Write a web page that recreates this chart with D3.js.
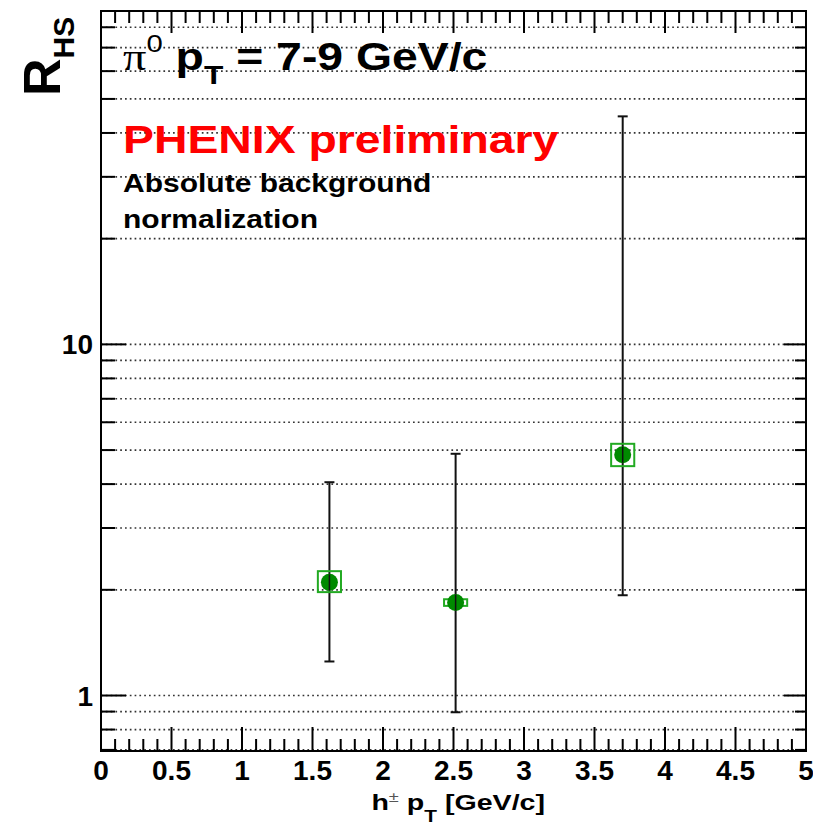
<!DOCTYPE html>
<html><head><meta charset="utf-8">
<script src="https://cdn.jsdelivr.net/npm/d3@7"></script>
<style>body{margin:0;background:#fff}svg{display:block}</style>
</head><body>
<script>
// ---- data ----
const xPt   = [1.62, 2.515, 3.70];       // h± pT [GeV/c]
const yVal  = [2.10, 1.84, 4.85];        // R_HS
const yStatHi = [4.05, 4.88, 44.6];      // upper end of stat. error bar
const yStatLo = [1.25, 0.896, 1.93];     // lower end of stat. error bar
const ySysHi  = [2.26, 1.88, 5.21];      // systematic box top
const ySysLo  = [1.97, 1.80, 4.50];      // systematic box bottom
const boxHalfWidth = 0.082;
const xTickLabels = ["0","0.5","1","1.5","2","2.5","3","3.5","4","4.5","5"];
const yTickLabels = ["1","10"];

const W = 813, H = 827;
const L = 101, R = 806, T = 11, B = 751;
const svg = d3.select("body").append("svg").attr("width", W).attr("height", H);

const x = d3.scaleLinear().domain([0, 5]).range([L, R]);
const y = d3.scaleLog().domain([0.695, 89]).range([B, T]);

const sans = "'Liberation Sans', Arial, Helvetica, sans-serif";
const serif = "'Liberation Serif', 'Times New Roman', serif";

// minor y values
const yMinor = [];
[0.1, 1, 10].forEach(d => { for (let k = 1; k <= 9; k++) { const v = +(k * d).toFixed(3); if (v >= 0.695 && v <= 89) yMinor.push(v); } });
const yMajor = yTickLabels.map(Number);

// dotted grid lines
svg.append("g").selectAll("line").data(yMinor).join("line")
  .attr("x1", L).attr("x2", R).attr("y1", d => y(d)).attr("y2", d => y(d))
  .attr("stroke", "#333").attr("stroke-width", 1.7).attr("stroke-dasharray", "1.7,3.1");

// x ticks
const xMinor = d3.range(0, 51).map(i => i / 10);
const isHalf = d => Math.abs(d * 2 - Math.round(d * 2)) < 1e-6;
const gx = svg.append("g");
gx.selectAll("line.b").data(xMinor).join("line").attr("class", "b")
  .attr("x1", d => x(d)).attr("x2", d => x(d))
  .attr("y1", B).attr("y2", d => B - (isHalf(d) ? 24 : 12))
  .attr("stroke", "#000").attr("stroke-width", 2);
gx.selectAll("line.t").data(xMinor).join("line").attr("class", "t")
  .attr("x1", d => x(d)).attr("x2", d => x(d))
  .attr("y1", T).attr("y2", d => T + (isHalf(d) ? 22 : 12))
  .attr("stroke", "#000").attr("stroke-width", 2);

// y ticks
const gy = svg.append("g");
gy.selectAll("line.l").data(yMinor).join("line").attr("class", "l")
  .attr("y1", d => y(d)).attr("y2", d => y(d))
  .attr("x1", L).attr("x2", d => L + (yMajor.includes(d) ? 25 : 14))
  .attr("stroke", "#000").attr("stroke-width", 2);
gy.selectAll("line.r").data(yMinor).join("line").attr("class", "r")
  .attr("y1", d => y(d)).attr("y2", d => y(d))
  .attr("x1", R).attr("x2", d => R - (yMajor.includes(d) ? 22 : 11))
  .attr("stroke", "#000").attr("stroke-width", 2);

// frame
svg.append("rect").attr("x", L).attr("y", T).attr("width", R - L).attr("height", B - T)
  .attr("fill", "none").attr("stroke", "#000").attr("stroke-width", 2);

// tick labels
svg.append("g").selectAll("text").data(xTickLabels).join("text")
  .attr("x", d => x(+d)).attr("y", 780).attr("text-anchor", "middle")
  .attr("font-family", sans).attr("font-weight", "bold").attr("font-size", 28).text(d => d);
svg.append("g").selectAll("text").data(yTickLabels).join("text")
  .attr("x", 93).attr("y", d => y(+d) + 10).attr("text-anchor", "end")
  .attr("font-family", sans).attr("font-weight", "bold").attr("font-size", 28).text(d => d);

// axis titles
const xt = svg.append("text").attr("transform", "translate(545,810) scale(1.3,1)").attr("text-anchor", "end")
  .attr("font-family", sans).attr("font-weight", "bold").attr("font-size", 22);
xt.append("tspan").text("h");
xt.append("tspan").attr("font-size", 14).attr("font-weight", "normal").attr("dy", -8).attr("fill", "#555").text("±");
xt.append("tspan").attr("dy", 8).text(" p");
xt.append("tspan").attr("font-size", 16).attr("dy", 12).text("T");
xt.append("tspan").attr("dy", -12).text(" [GeV/c]");

const yt = svg.append("text").attr("transform", "translate(60,96) rotate(-90)")
  .attr("font-family", sans).attr("font-weight", "bold").attr("font-size", 52);
yt.append("tspan").text("R");
yt.append("tspan").attr("font-size", 30).attr("dy", 14).text("HS");

// annotation texts (horizontally stretched like the original renderer)
const t1 = svg.append("text").attr("transform", "translate(123,70) scale(1.22,1)")
  .attr("font-family", sans).attr("font-weight", "bold").attr("font-size", 38);
t1.append("tspan").attr("font-family", serif).attr("font-weight", "normal").text("π");
t1.append("tspan").attr("font-family", sans).attr("font-weight", "normal").attr("font-size", 24).attr("dy", -18).text("0");
t1.append("tspan").attr("dy", 18).text(" p");
t1.append("tspan").attr("font-size", 26).attr("dy", 14).text("T");
t1.append("tspan").attr("dy", -14).text(" = 7-9 GeV/c");

svg.append("text").attr("transform", "translate(123,153) scale(1.22,1)").attr("fill", "#ff0000")
  .attr("font-family", sans).attr("font-weight", "bold").attr("font-size", 38).text("PHENIX preliminary");
svg.append("text").attr("transform", "translate(123,192) scale(1.2,1)")
  .attr("font-family", sans).attr("font-weight", "bold").attr("font-size", 25).text("Absolute background");
svg.append("text").attr("transform", "translate(123,228) scale(1.2,1)")
  .attr("font-family", sans).attr("font-weight", "bold").attr("font-size", 25).text("normalization");

// data
const pts = xPt.map((d, i) => ({x: d, y: yVal[i], hi: yStatHi[i], lo: yStatLo[i], sh: ySysHi[i], sl: ySysLo[i]}));
const gd = svg.append("g");
gd.selectAll("line.err").data(pts).join("line").attr("class", "err")
  .attr("x1", d => x(d.x)).attr("x2", d => x(d.x)).attr("y1", d => y(d.hi)).attr("y2", d => y(d.lo))
  .attr("stroke", "#111").attr("stroke-width", 2);
["hi", "lo"].forEach(k => {
  gd.selectAll("line.cap" + k).data(pts).join("line").attr("class", "cap" + k)
    .attr("x1", d => x(d.x) - 5).attr("x2", d => x(d.x) + 5).attr("y1", d => y(d[k])).attr("y2", d => y(d[k]))
    .attr("stroke", "#111").attr("stroke-width", 2);
});
gd.selectAll("rect").data(pts).join("rect")
  .attr("x", d => x(d.x - boxHalfWidth)).attr("width", d => x(d.x + boxHalfWidth) - x(d.x - boxHalfWidth))
  .attr("y", d => y(d.sh)).attr("height", d => y(d.sl) - y(d.sh))
  .attr("fill", "none").attr("stroke", "#22aa22").attr("stroke-width", 2);
gd.selectAll("circle").data(pts).join("circle")
  .attr("cx", d => x(d.x)).attr("cy", d => y(d.y)).attr("r", 8.5)
  .attr("fill", "#008a00");
gd.selectAll("line.err2").data(pts).join("line").attr("class", "err2")
  .attr("x1", d => x(d.x)).attr("x2", d => x(d.x)).attr("y1", d => y(d.y) - 8).attr("y2", d => y(d.y) + 8)
  .attr("stroke", "#111").attr("stroke-width", 1.5);
</script>
</body></html>
